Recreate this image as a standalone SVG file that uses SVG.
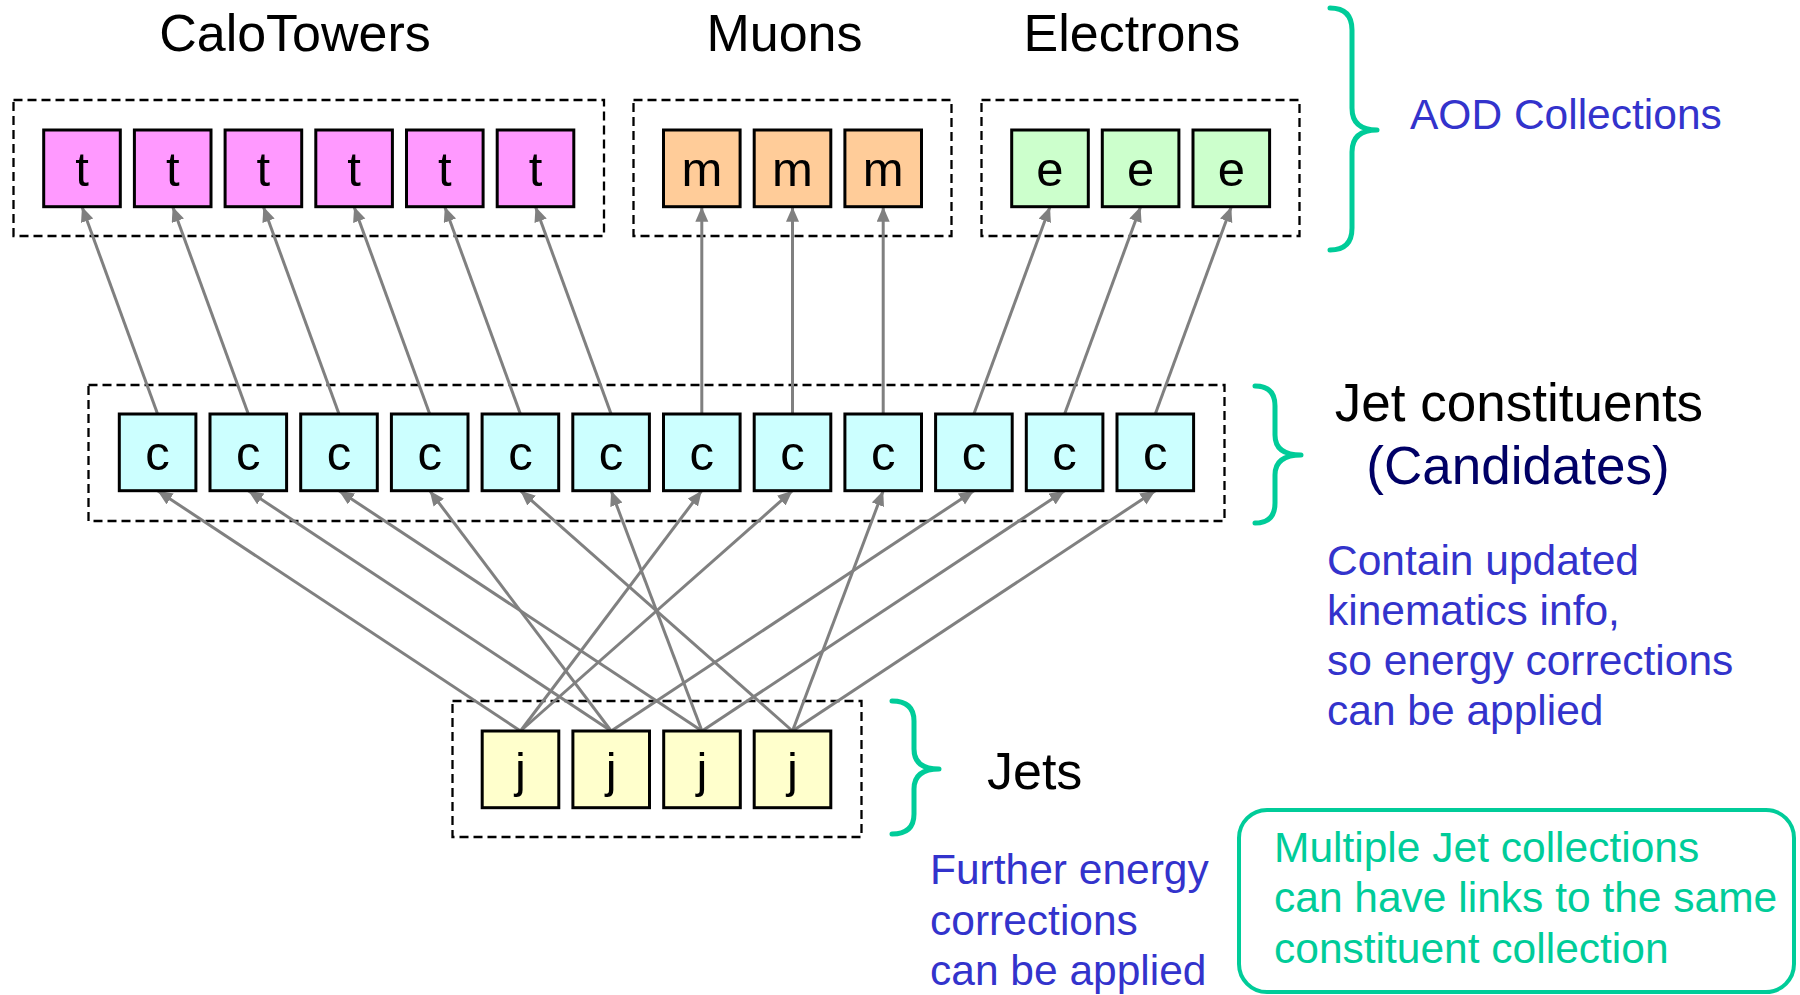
<svg xmlns="http://www.w3.org/2000/svg" width="1800" height="995" viewBox="0 0 1800 995">
  <style>
    .lbl { font-family: "Liberation Sans", Arial, sans-serif; }
    .head { font-size: 52px; fill: #000; text-anchor: middle; }
    .note { font-size: 42.5px; fill: #3333CC; }
    .green { font-size: 42.5px; fill: #00CC99; }
    .cell { stroke: #000; stroke-width: 3; }
    .cell-t { fill: #FF99FF; }
    .cell-m { fill: #FFCC99; }
    .cell-e { fill: #CCFFCC; }
    .cell-c { fill: #CCFFFF; }
    .cell-j { fill: #FFFFCC; }
    .glyph { font-family: "Liberation Sans", Arial, sans-serif; font-size: 49px; fill: #000; text-anchor: middle; }
    .frame { fill: none; stroke: #000; stroke-width: 2.3; stroke-dasharray: 9 5; }
    .link { stroke: #808080; stroke-width: 3; fill: none; marker-end: url(#ah); }
    .brace { fill: none; stroke: #00CC99; stroke-width: 5; stroke-linecap: round; stroke-linejoin: round; }
  </style>
  <defs>
    <marker id="ah" markerUnits="userSpaceOnUse" markerWidth="16" markerHeight="14" refX="15" refY="6.5" orient="auto">
      <path d="M0,0 L15,6.5 L0,13 z" fill="#808080"/>
    </marker>
  </defs>

  <rect width="1800" height="995" fill="#fff"/>

  <!-- collection headings -->
  <g id="headings" class="lbl">
    <text class="lbl head" x="295" y="51">CaloTowers</text>
    <text class="lbl head" x="784.5" y="51">Muons</text>
    <text class="lbl head" x="1132" y="51">Electrons</text>
  </g>

  <!-- dashed collection frames -->
  <g id="frames">
    <rect class="frame" x="13.5" y="100" width="590.5" height="136"/>
    <rect class="frame" x="633.5" y="100" width="318" height="136"/>
    <rect class="frame" x="981.5" y="100" width="318" height="136"/>
    <rect class="frame" x="88.5" y="385" width="1136" height="136"/>
    <rect class="frame" x="452.5" y="701" width="409" height="136"/>
  </g>

  <!-- links: jets to constituents, constituents to AOD objects -->
  <g id="connectors">
    <!-- j1 -->
    <line class="link" x1="520.5" y1="731" x2="157.6" y2="490.7"/>
    <line class="link" x1="520.5" y1="731" x2="701.8" y2="490.7"/>
    <line class="link" x1="520.5" y1="731" x2="792.5" y2="490.7"/>
    <!-- j2 -->
    <line class="link" x1="611.2" y1="731" x2="248.3" y2="490.7"/>
    <line class="link" x1="611.2" y1="731" x2="429.7" y2="490.7"/>
    <line class="link" x1="611.2" y1="731" x2="973.9" y2="490.7"/>
    <!-- j3 -->
    <line class="link" x1="702" y1="731" x2="339" y2="490.7"/>
    <line class="link" x1="702" y1="731" x2="611.1" y2="490.7"/>
    <line class="link" x1="702" y1="731" x2="1064.6" y2="490.7"/>
    <!-- j4 -->
    <line class="link" x1="792.5" y1="731" x2="520.4" y2="490.7"/>
    <line class="link" x1="792.5" y1="731" x2="883.2" y2="490.7"/>
    <line class="link" x1="792.5" y1="731" x2="1155.3" y2="490.7"/>

    <!-- constituents to calo towers -->
    <line class="link" x1="157.6" y1="414" x2="82" y2="206.7"/>
    <line class="link" x1="248.3" y1="414" x2="172.7" y2="206.7"/>
    <line class="link" x1="339" y1="414" x2="263.4" y2="206.7"/>
    <line class="link" x1="429.7" y1="414" x2="354.1" y2="206.7"/>
    <line class="link" x1="520.4" y1="414" x2="444.8" y2="206.7"/>
    <line class="link" x1="611.1" y1="414" x2="535.5" y2="206.7"/>
    <!-- constituents to muons -->
    <line class="link" x1="701.8" y1="414" x2="701.8" y2="206.7"/>
    <line class="link" x1="792.5" y1="414" x2="792.5" y2="206.7"/>
    <line class="link" x1="883.2" y1="414" x2="883.2" y2="206.7"/>
    <!-- constituents to electrons -->
    <line class="link" x1="973.9" y1="414" x2="1050" y2="206.7"/>
    <line class="link" x1="1064.6" y1="414" x2="1140.6" y2="206.7"/>
    <line class="link" x1="1155.3" y1="414" x2="1231.3" y2="206.7"/>
  </g>

  <!-- calo towers -->
  <g id="t1"><rect class="cell cell-t" x="43.7" y="130" width="76.6" height="76.7"/><text class="glyph" x="82" y="186">t</text></g>
  <g id="t2"><rect class="cell cell-t" x="134.4" y="130" width="76.6" height="76.7"/><text class="glyph" x="172.7" y="186">t</text></g>
  <g id="t3"><rect class="cell cell-t" x="225.1" y="130" width="76.6" height="76.7"/><text class="glyph" x="263.4" y="186">t</text></g>
  <g id="t4"><rect class="cell cell-t" x="315.8" y="130" width="76.6" height="76.7"/><text class="glyph" x="354.1" y="186">t</text></g>
  <g id="t5"><rect class="cell cell-t" x="406.5" y="130" width="76.6" height="76.7"/><text class="glyph" x="444.8" y="186">t</text></g>
  <g id="t6"><rect class="cell cell-t" x="497.2" y="130" width="76.6" height="76.7"/><text class="glyph" x="535.5" y="186">t</text></g>

  <!-- muons -->
  <g id="m1"><rect class="cell cell-m" x="663.5" y="130" width="76.6" height="76.7"/><text class="glyph" x="701.8" y="186">m</text></g>
  <g id="m2"><rect class="cell cell-m" x="754.2" y="130" width="76.6" height="76.7"/><text class="glyph" x="792.5" y="186">m</text></g>
  <g id="m3"><rect class="cell cell-m" x="844.9" y="130" width="76.6" height="76.7"/><text class="glyph" x="883.2" y="186">m</text></g>

  <!-- electrons -->
  <g id="e1"><rect class="cell cell-e" x="1011.7" y="130" width="76.6" height="76.7"/><text class="glyph" x="1050" y="186">e</text></g>
  <g id="e2"><rect class="cell cell-e" x="1102.3" y="130" width="76.6" height="76.7"/><text class="glyph" x="1140.6" y="186">e</text></g>
  <g id="e3"><rect class="cell cell-e" x="1193" y="130" width="76.6" height="76.7"/><text class="glyph" x="1231.3" y="186">e</text></g>

  <!-- jet constituents -->
  <g id="c1"><rect class="cell cell-c" x="119.3" y="414" width="76.6" height="76.7"/><text class="glyph" x="157.6" y="470">c</text></g>
  <g id="c2"><rect class="cell cell-c" x="210" y="414" width="76.6" height="76.7"/><text class="glyph" x="248.3" y="470">c</text></g>
  <g id="c3"><rect class="cell cell-c" x="300.7" y="414" width="76.6" height="76.7"/><text class="glyph" x="339" y="470">c</text></g>
  <g id="c4"><rect class="cell cell-c" x="391.4" y="414" width="76.6" height="76.7"/><text class="glyph" x="429.7" y="470">c</text></g>
  <g id="c5"><rect class="cell cell-c" x="482.1" y="414" width="76.6" height="76.7"/><text class="glyph" x="520.4" y="470">c</text></g>
  <g id="c6"><rect class="cell cell-c" x="572.8" y="414" width="76.6" height="76.7"/><text class="glyph" x="611.1" y="470">c</text></g>
  <g id="c7"><rect class="cell cell-c" x="663.5" y="414" width="76.6" height="76.7"/><text class="glyph" x="701.8" y="470">c</text></g>
  <g id="c8"><rect class="cell cell-c" x="754.2" y="414" width="76.6" height="76.7"/><text class="glyph" x="792.5" y="470">c</text></g>
  <g id="c9"><rect class="cell cell-c" x="844.9" y="414" width="76.6" height="76.7"/><text class="glyph" x="883.2" y="470">c</text></g>
  <g id="c10"><rect class="cell cell-c" x="935.6" y="414" width="76.6" height="76.7"/><text class="glyph" x="973.9" y="470">c</text></g>
  <g id="c11"><rect class="cell cell-c" x="1026.3" y="414" width="76.6" height="76.7"/><text class="glyph" x="1064.6" y="470">c</text></g>
  <g id="c12"><rect class="cell cell-c" x="1117" y="414" width="76.6" height="76.7"/><text class="glyph" x="1155.3" y="470">c</text></g>

  <!-- jets -->
  <g id="j1"><rect class="cell cell-j" x="482.2" y="731" width="76.6" height="76.7"/><text class="glyph" x="520.5" y="787">j</text></g>
  <g id="j2"><rect class="cell cell-j" x="572.9" y="731" width="76.6" height="76.7"/><text class="glyph" x="611.2" y="787">j</text></g>
  <g id="j3"><rect class="cell cell-j" x="663.7" y="731" width="76.6" height="76.7"/><text class="glyph" x="702" y="787">j</text></g>
  <g id="j4"><rect class="cell cell-j" x="754.2" y="731" width="76.6" height="76.7"/><text class="glyph" x="792.5" y="787">j</text></g>

  <!-- braces -->
  <g id="braces">
    <path class="brace" d="M1330,8 Q1352,8 1352,30 L1352,108 Q1352,130 1377,130 Q1352,130 1352,152 L1352,228 Q1352,250 1330,250"/>
    <path class="brace" d="M1255,386 Q1275,386 1275,406 L1275,435 Q1275,455 1301,455 Q1275,455 1275,475 L1275,503 Q1275,523 1255,523"/>
    <path class="brace" d="M892,701 Q914,701 914,721 L914,749 Q914,769 939,769 Q914,769 914,789 L914,814 Q914,834 892,834"/>
  </g>

  <!-- annotations -->
  <g id="aod-label">
    <text class="lbl note" x="1410" y="129">AOD Collections</text>
  </g>
  <g id="constituents-label" class="lbl">
    <text class="lbl" x="1519" y="421" font-size="53" fill="#000" text-anchor="middle">Jet constituents</text>
    <text class="lbl" x="1518" y="484" font-size="53" fill="#000066" text-anchor="middle">(Candidates)</text>
  </g>
  <g id="constituents-note">
    <text class="lbl note" x="1327" y="575">Contain updated</text>
    <text class="lbl note" x="1327" y="625">kinematics info,</text>
    <text class="lbl note" x="1327" y="675">so energy corrections</text>
    <text class="lbl note" x="1327" y="725">can be applied</text>
  </g>
  <g id="jets-label">
    <text class="lbl" x="987" y="789" font-size="52" fill="#000">Jets</text>
  </g>
  <g id="jets-note">
    <text class="lbl note" x="930" y="884">Further energy</text>
    <text class="lbl note" x="930" y="935">corrections</text>
    <text class="lbl note" x="930" y="985">can be applied</text>
  </g>
  <g id="shared-note">
    <rect x="1239" y="810" width="555" height="182" rx="28" ry="28" fill="none" stroke="#00CC99" stroke-width="4"/>
    <text class="lbl green" x="1274" y="862">Multiple Jet collections</text>
    <text class="lbl green" x="1274" y="912">can have links to the same</text>
    <text class="lbl green" x="1274" y="963">constituent collection</text>
  </g>
</svg>
